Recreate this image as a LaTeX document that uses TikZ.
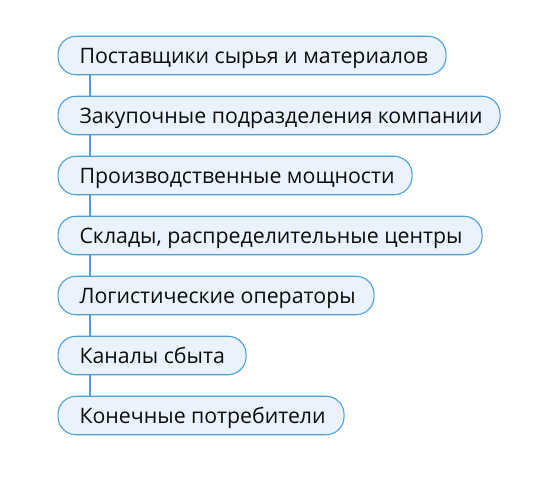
\documentclass[tikz,border=0pt]{standalone}
\usepackage{fontspec}
\setmainfont{Open Sans}
\newcommand{\boxtext}[2]{\makebox[#1bp][l]{#2}}
\begin{document}
\begin{tikzpicture}[x=1bp,y=-1bp,
  box/.style={draw=boxline, fill=boxfill, line width=1.1bp, rounded corners=18bp,
    minimum height=38.5bp, inner xsep=21.5bp, inner ysep=0bp, anchor=west,
    text height=16.5bp, text depth=0bp,
    font=\fontsize{21.3bp}{25bp}\selectfont, text=txt},
  link/.style={draw=boxline, line width=1.1bp}]
\definecolor{boxline}{HTML}{4C9FDA}
\definecolor{boxfill}{HTML}{EAF3FB}
\definecolor{txt}{HTML}{0D0D0D}
\useasboundingbox (0,0) rectangle (553,483);
\coordinate (L) at (90,0);
\node[box] (n1) at (57.5,55.5) {\boxtext{345}{Поставщики сырья и материалов}};
\node[box] (n2) at (57.5,115.5) {\boxtext{399}{Закупочные подразделения компании}};
\node[box] (n3) at (57.5,175.5) {\boxtext{311}{Производственные мощности}};
\node[box] (n4) at (57.5,235.5) {\boxtext{381}{Склады, распределительные центры}};
\node[box] (n5) at (57.5,295.5) {\boxtext{273}{Логистические операторы}};
\node[box] (n6) at (57.5,355.5) {\boxtext{145}{Каналы сбыта}};
\node[box] (n7) at (57.5,415.5) {\boxtext{243}{Конечные потребители}};
\foreach \a/\b in {n1/n2,n2/n3,n3/n4,n4/n5,n5/n6,n6/n7}
  \draw[link] (\a.south -| L) -- (\b.north -| L);
\end{tikzpicture}
\end{document}
